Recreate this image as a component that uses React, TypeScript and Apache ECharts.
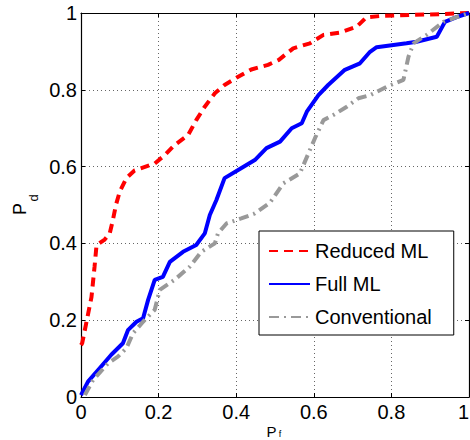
import React, { useEffect, useRef } from "react";
import * as echarts from "echarts";

const seriesNames = ["Reduced ML", "Full ML", "Conventional"];
const xTicks = [0, 0.2, 0.4, 0.6, 0.8, 1];
const yTicks = [0, 0.2, 0.4, 0.6, 0.8, 1];

const reducedML: [number, number][] = [
  [0, 0.135], [0.003, 0.14], [0.013, 0.19], [0.027, 0.26], [0.035, 0.34], [0.04, 0.395],
  [0.061, 0.41], [0.074, 0.426], [0.082, 0.46], [0.09, 0.5], [0.1, 0.535],
  [0.117, 0.57], [0.138, 0.59], [0.19, 0.608], [0.216, 0.63], [0.241, 0.656],
  [0.276, 0.682], [0.297, 0.721], [0.319, 0.756], [0.345, 0.791], [0.37, 0.8125],
  [0.405, 0.834], [0.439, 0.853], [0.482, 0.865], [0.51, 0.878], [0.547, 0.908],
  [0.59, 0.921], [0.625, 0.943], [0.668, 0.949], [0.71, 0.964], [0.736, 0.989],
  [0.77, 0.992], [0.848, 0.995], [0.925, 0.997], [1, 1],
];

const fullML: [number, number][] = [
  [0, 0.005], [0.018, 0.04], [0.048, 0.075], [0.078, 0.11], [0.108, 0.14],
  [0.121, 0.174], [0.143, 0.196], [0.16, 0.205], [0.173, 0.253], [0.19, 0.305],
  [0.211, 0.313], [0.229, 0.352], [0.263, 0.378], [0.297, 0.396], [0.319, 0.426],
  [0.332, 0.474], [0.349, 0.513], [0.37, 0.57], [0.405, 0.591], [0.448, 0.617],
  [0.478, 0.648], [0.513, 0.665], [0.543, 0.7], [0.569, 0.713], [0.582, 0.743],
  [0.612, 0.786], [0.637, 0.8125], [0.68, 0.852], [0.719, 0.869], [0.745, 0.899],
  [0.762, 0.911], [0.839, 0.921], [0.865, 0.925], [0.917, 0.938], [0.938, 0.977],
  [0.968, 0.989], [1, 1],
];

const conventional: [number, number][] = [
  [0.01, 0.005], [0.031, 0.044], [0.07, 0.088], [0.095, 0.105], [0.117, 0.127],
  [0.134, 0.166], [0.16, 0.196], [0.19, 0.227], [0.203, 0.279], [0.241, 0.305],
  [0.28, 0.339], [0.31, 0.378], [0.345, 0.4], [0.353, 0.426], [0.375, 0.452],
  [0.413, 0.465], [0.448, 0.478], [0.487, 0.506], [0.521, 0.556], [0.564, 0.582],
  [0.586, 0.634], [0.603, 0.674], [0.625, 0.721], [0.65, 0.734], [0.685, 0.756],
  [0.715, 0.778], [0.745, 0.786], [0.788, 0.808], [0.831, 0.826], [0.844, 0.886],
  [0.857, 0.921], [0.891, 0.943], [0.934, 0.977], [0.968, 0.989], [1, 1],
];

const FONT = "'Liberation Sans', Arial, Helvetica, sans-serif";

export default function App() {
  const ref = useRef<HTMLDivElement>(null);
  useEffect(() => {
    if (!ref.current) return;
    const chart = echarts.init(ref.current, null, { renderer: "svg" });
    const gridLine = { show: true, lineStyle: { color: "#666", type: [1, 3] as any, width: 1 } };
    const axisBase = {
      type: "value" as const,
      min: 0,
      max: 1,
      interval: 0.2,
      axisLine: { show: true, onZero: false, lineStyle: { color: "#000", width: 1.2 } },
      axisTick: { show: true, inside: true, length: 4, lineStyle: { color: "#000" } },
    };
    const fmt = (v: number) => {
      const r = Math.round(v * 10) / 10;
      return xTicks.includes(r) || yTicks.includes(r) ? String(r) : "";
    };
    chart.setOption({
      animation: false,
      textStyle: { fontFamily: FONT },
      grid: { left: 81, right: 1, top: 13, bottom: 43, containLabel: false, outerBoundsMode: "none" },
      xAxis: [
        {
          ...axisBase,
          position: "bottom",
          splitLine: gridLine,
          axisLabel: { color: "#000", fontSize: 20, fontFamily: FONT, margin: 5, formatter: fmt, alignMaxLabel: "right" },
        },
        {
          ...axisBase,
          position: "top",
          splitLine: { show: false },
          axisLabel: { show: false },
        },
      ],
      yAxis: [
        {
          ...axisBase,
          position: "left",
          splitLine: gridLine,
          axisLabel: { color: "#000", fontSize: 20, fontFamily: FONT, margin: 4, formatter: fmt },
        },
        {
          ...axisBase,
          position: "right",
          splitLine: { show: false },
          axisLabel: { show: false },
        },
      ],
      legend: {
        left: 259,
        top: 231,
        orient: "vertical",
        backgroundColor: "#fff",
        borderColor: "#000",
        borderWidth: 1,
        borderRadius: 0,
        padding: [10, 22, 8, 9],
        itemWidth: 41,
        itemHeight: 20,
        itemGap: 13,
        itemStyle: { opacity: 0 },
        textStyle: { fontSize: 20, color: "#000", fontFamily: FONT },
        data: seriesNames,
      },
      series: [
        {
          name: seriesNames[0],
          type: "line",
          data: reducedML,
          showSymbol: false,
          symbol: "none",
          lineStyle: { color: "#ff0000", width: 4, type: [9, 6] },
          itemStyle: { color: "#ff0000" },
        },
        {
          name: seriesNames[1],
          type: "line",
          data: fullML,
          showSymbol: false,
          symbol: "none",
          lineStyle: { color: "#0000ff", width: 4, type: "solid" },
          itemStyle: { color: "#0000ff" },
        },
        {
          name: seriesNames[2],
          type: "line",
          data: conventional,
          showSymbol: false,
          symbol: "none",
          lineStyle: { color: "#999999", width: 4, type: [10, 5, 2, 5] },
          itemStyle: { color: "#999999" },
        },
      ],
      graphic: [
        { type: "text", x: 20, y: 209, rotation: Math.PI / 2, style: { text: "P", fontSize: 18, fontFamily: FONT, fill: "#000", align: "center", verticalAlign: "middle" } },
        { type: "text", x: 33, y: 198, rotation: Math.PI / 2, style: { text: "d", fontSize: 13, fontFamily: FONT, fill: "#000", align: "center", verticalAlign: "middle" } },
        { type: "text", x: 271.5, y: 431, style: { text: "P", fontSize: 15, fontFamily: FONT, fill: "#000", align: "center", verticalAlign: "middle" } },
        { type: "text", x: 280, y: 434, style: { text: "f", fontSize: 9, fontFamily: FONT, fill: "#000", align: "center", verticalAlign: "middle" } },
      ],
    });
    return () => chart.dispose();
  }, []);
  return <div ref={ref} style={{ position: "fixed", left: 0, top: 0, width: 470, height: 440, background: "#fff" }} />;
}
